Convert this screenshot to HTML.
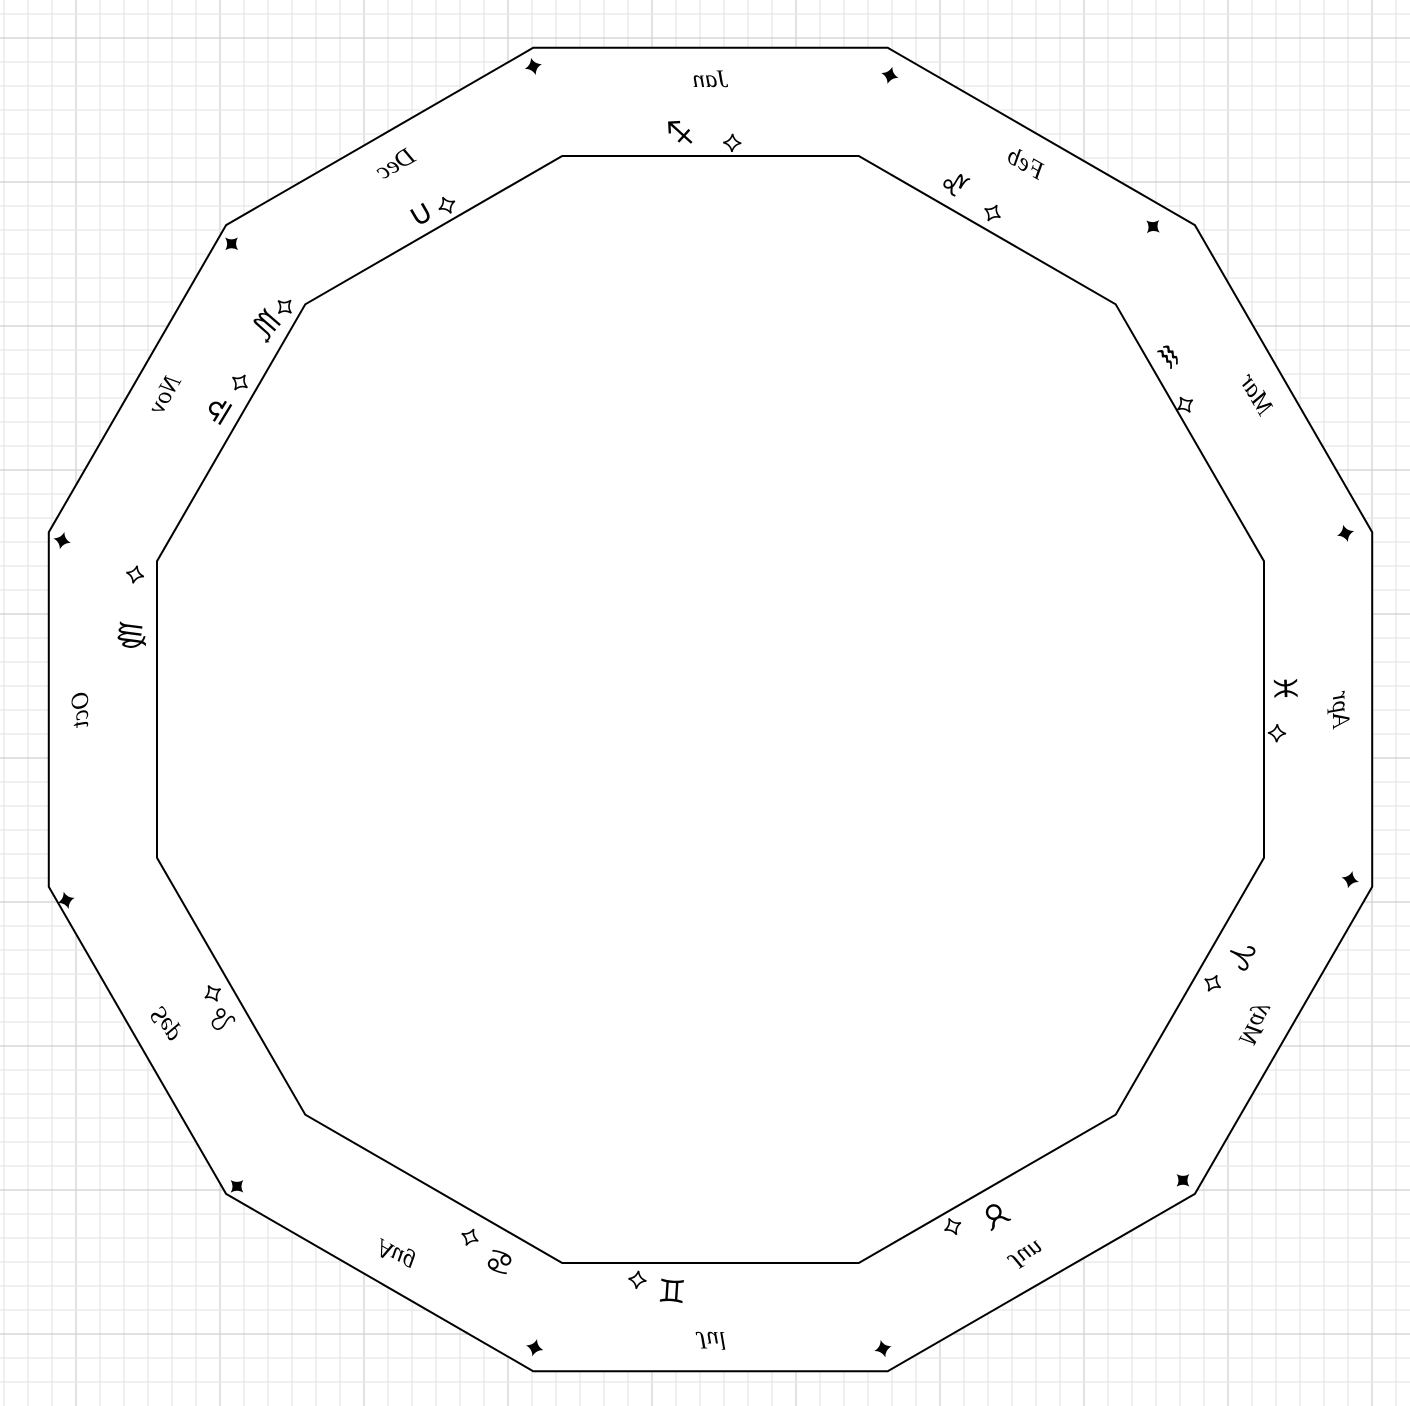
<!DOCTYPE html>
<html><head><meta charset="utf-8"><style>
html,body{margin:0;padding:0;background:#fff;}
svg{display:block;}
.mon{font-family:"Liberation Serif",serif;font-style:italic;font-size:25px;fill:#000;}
.sym{font-family:"DejaVu Sans",sans-serif;font-size:32px;fill:#000;}
</style></head><body>
<svg id="chart" width="1410" height="1406" viewBox="0 0 1410 1406" xmlns="http://www.w3.org/2000/svg">
<g id="grid"></g>
<g id="wheel" transform="translate(710.5,709.5) scale(-1,1)"></g>
</svg>
<script>
const months = ["Jan","Feb","Mar","Apr","May","Jun","Jul","Aug","Sep","Oct","Nov","Dec"];
const monthAngles = [0,30,60,90,120,150,180,210,240,270,300,330];
const signs = ["♐","♑","♒","♓","♈","♉","♊","♋","♌","♍","♎","♏","∪"];
const signAngles = [-3.0,25.0,52.4,87.9,114.9,150.6,183.8,200.9,237.7,277.3,301.3,310.8,329.7];
const signRadii = [577,579,578,575,584,580,582,591,578,585,576,588,575];
const sparkAngles = [2.2,29.6,57.3,92.4,118.6,154.9,187.3,204.5,240.3,283.2,304.8,313.4,332.4];
const sparkRadii = [567,571,564,567,572,571,575,580,573,591,573,586,569];
const starAngles = [-15.4,15.8,42.5,74.5,104.9,134.9,164.9,195.4,224.8,253.5,284.6,314.2];
const starRadii = [667,659,655,659,662,667,662,662,672,672,670,668];
const outerR = 685, innerR = 573, monthR = 630;

const NS="http://www.w3.org/2000/svg";
function mk(t,a){const e=document.createElementNS(NS,t);for(const k in a)e.setAttribute(k,a[k]);return e;}
const grid=document.getElementById('grid');
for(let x=4;x<1410;x+=24){const l=mk('line',{x1:x,y1:0,x2:x,y2:1406,stroke:((x-76)%144===0)?'#cfcfcf':'#e6e6e6','stroke-width':1.2});

grid.appendChild(l);}
for(let y=14;y<1406;y+=24){const l=mk('line',{x1:0,y1:y,x2:1410,y2:y,stroke:((y-38)%144===0)?'#cfcfcf':'#e6e6e6','stroke-width':1.2});

grid.appendChild(l);}

const w=document.getElementById('wheel');
function poly(r){let p=[];for(let i=0;i<12;i++){const a=(15+30*i)*Math.PI/180;p.push((r*Math.sin(a)).toFixed(1)+','+(-r*Math.cos(a)).toFixed(1));}return p.join(' ');}
const outer=mk('polygon',{points:poly(outerR),fill:'#fff',stroke:'#000','stroke-width':2});

w.appendChild(outer);
const inner=mk('polygon',{points:poly(innerR),fill:'#fff',stroke:'#000','stroke-width':2});

w.appendChild(inner);

function place(a,r){return 'rotate('+(-a)+') translate(0,'+(-r)+')';}
months.forEach((m,i)=>{const g=mk('g',{transform:place(monthAngles[i],monthR)});
const t=mk('text',{class:'mon','text-anchor':'middle','dominant-baseline':'central'});t.textContent=m;

g.appendChild(t);w.appendChild(g);});
signs.forEach((s,i)=>{const g=mk('g',{transform:place(signAngles[i],signRadii[i])});
const t=mk('text',{class:'sym','text-anchor':'middle','dominant-baseline':'central'});t.textContent=s;

g.appendChild(t);w.appendChild(g);});
const sp="M0,-9 Q1.5,-1.5 9,0 Q1.5,1.5 0,9 Q-1.5,1.5 -9,0 Q-1.5,-1.5 0,-9Z";
sparkAngles.forEach((a,i)=>{const p=mk('path',{d:sp,transform:place(a,sparkRadii[i]),fill:'#fff',stroke:'#000','stroke-width':1.6});

w.appendChild(p);});
const st="M0,-9 Q1.8,-1.8 9,0 Q1.8,1.8 0,9 Q-1.8,1.8 -9,0 Q-1.8,-1.8 0,-9Z";
starAngles.forEach((a,i)=>{const p=mk('path',{d:st,transform:place(a,starRadii[i]),fill:'#000'});

w.appendChild(p);});
</script>
</body></html>
